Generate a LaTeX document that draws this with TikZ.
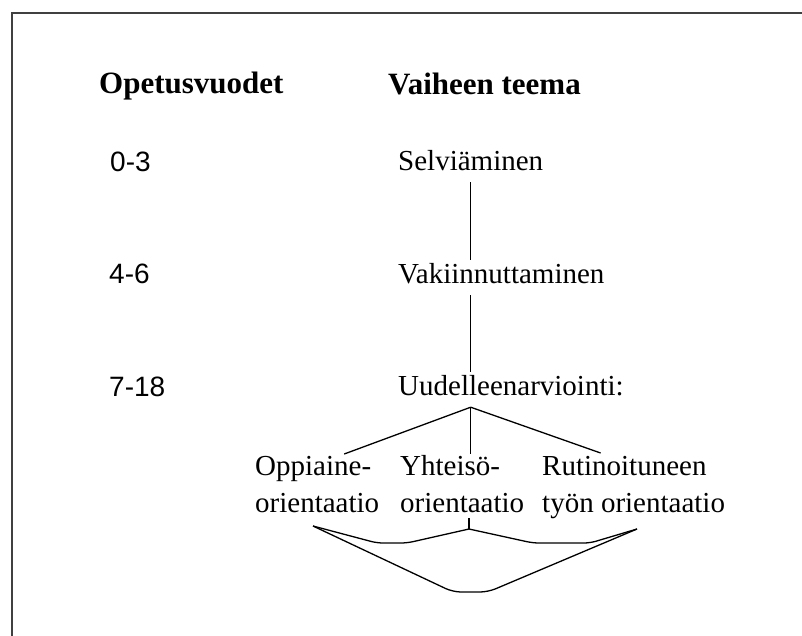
\documentclass[tikz,border=0pt]{standalone}
\usepackage{fontspec}
\setmainfont{Liberation Serif}
\newfontfamily\numfont{Liberation Sans}
\newcommand{\toprule}{\rule{0pt}{22pt}}
\begin{document}
\begin{tikzpicture}[x=1pt,y=-1pt,
  hdr/.style={anchor=base west, inner sep=0pt, font=\fontsize{31}{36}\selectfont\bfseries},
  yr/.style={anchor=base west, inner sep=0pt, font=\numfont\fontsize{28}{34}\selectfont},
  phase/.style={anchor=base west, inner xsep=0pt, inner ysep=3pt, text height=20pt, text depth=9pt, font=\fontsize{29}{37}\selectfont},
  orient/.style={anchor=north west, inner sep=0pt, align=left, font=\fontsize{29}{37}\selectfont},
  conn/.style={draw=black, line width=1.3pt},
  frame/.style={draw=black!75, line width=2pt}]
\useasboundingbox (0,0) rectangle (802,635);
\draw[frame] (12,640) -- (12,13) -- (806,13);
% headings
\node[hdr] (h1) at (99,93) {Opetusvuodet};
\node[hdr] (h2) at (388,94) {Vaiheen teema};
% years
\node[yr] (y1) at (110,171) {0-3};
\node[yr] (y2) at (109,283) {4-6};
\node[yr] (y3) at (109,396) {7-18};
% phases
\node[phase] (s1) at (398,170) {Selviäminen};
\node[phase] (s2) at (398,283) {Vakiinnuttaminen};
\node[phase] (s3) at (398,395) {Uudelleenarviointi:};
% orientations
\node[orient] (c1) at (255,453) {\toprule Oppiaine-\\orientaatio};
\node[orient] (c2) at (400,453) {\toprule Yhteisö-\\orientaatio};
\node[orient] (c3) at (542,453) {\toprule Rutinoituneen\\työn orientaatio};
% connectors
\draw[conn] (s1.south) -- (s1.south |- s2.north);
\draw[conn] (s1.south |- s2.south) -- (s1.south |- s3.north);
\coordinate (apex) at (s1.south |- s3.south);
\draw[conn] (apex) -- ([xshift=27pt,yshift=-1pt]c1.north);
\draw[conn] (apex) -- ([yshift=-1pt]apex |- c2.north);
\draw[conn] (apex) -- ([xshift=-33pt]c3.north);
% braces below
\coordinate (bL) at (313,526);
\coordinate (bR) at (637,529);
\coordinate (bT) at (469,529);
\draw[conn] (469,518) -- (bT);
\draw[conn, rounded corners=6pt] (bL) -- (377,543) -- (407,543) -- (bT);
\draw[conn, rounded corners=6pt] (bT) -- (533,543) -- (590,543) -- (bR);
\draw[conn, rounded corners=8pt] (bL) -- (453,592) -- (488,592) -- (bR);
\end{tikzpicture}
\end{document}
